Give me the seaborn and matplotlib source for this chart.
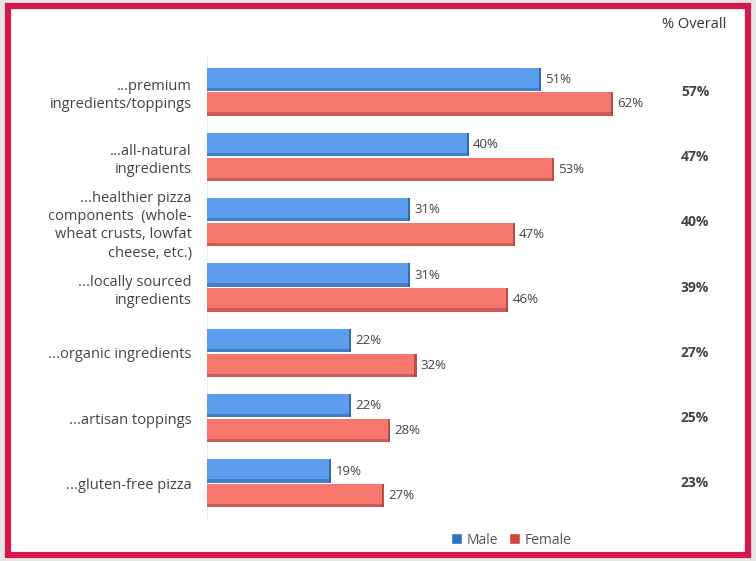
import matplotlib
matplotlib.use("Agg")
import matplotlib.pyplot as plt
import matplotlib.transforms as mtrans
from matplotlib.patches import Rectangle, Patch
import seaborn as sns
import pandas as pd

categories = [
    "...premium\ningredients/toppings",
    "...all-natural\ningredients",
    "...healthier pizza\ncomponents  (whole-\nwheat crusts, lowfat\ncheese, etc.)",
    "...locally sourced\ningredients",
    "...organic ingredients",
    "...artisan toppings",
    "...gluten-free pizza",
]
male = [51, 40, 31, 31, 22, 22, 19]
female = [62, 53, 47, 46, 32, 28, 27]
overall = [57, 47, 40, 39, 27, 25, 23]
series = ["Male", "Female"]

df = pd.DataFrame({
    "category": categories * 2,
    "value": male + female,
    "gender": ["Male"] * len(categories) + ["Female"] * len(categories),
})

sns.set_theme(style="white")
plt.rcParams["font.family"] = ["Open Sans", "DejaVu Sans"]

W, H = 756, 561
fig = plt.figure(figsize=(W / 100, H / 100), dpi=100)
fig.patch.set_facecolor("#e6e6e8")

# white panel with crimson frame
fig.patches.append(Rectangle((8 / W, 6 / H), (W - 16) / W, (H - 12) / H,
                             transform=fig.transFigure, facecolor="white",
                             edgecolor="#d5184c", linewidth=4.5, zorder=-5))

ax = fig.add_axes([207 / W, 1 - 520 / H, (650 - 207) / W, 465 / H])
ax.set_facecolor("none")

palette = {"Male": "#5d9ded", "Female": "#f6776d"}
sns.barplot(data=df, y="category", x="value", hue="gender", hue_order=series,
            palette=palette, orient="h", width=0.76, gap=0.06, ax=ax,
            legend=False, saturation=1, edgecolor="none")

# subtle dark shading on bar ends
shade = {"Male": "#2f5f9c", "Female": "#a8453e"}
for cont, name in zip(ax.containers, series):
    for rect in cont:
        rect.set_edgecolor("none")
        x0, y0 = rect.get_x(), rect.get_y()
        w, h = rect.get_width(), rect.get_height()
        ax.add_patch(Rectangle((x0 + w - 0.35, y0), 0.35, h, facecolor=shade[name],
                               edgecolor="none", alpha=0.8, zorder=3))
        ax.add_patch(Rectangle((x0, y0 + h - 0.05), w, 0.05, facecolor=shade[name],
                               edgecolor="none", alpha=0.5, zorder=3))
    ax.bar_label(cont, labels=[f"{int(v)}%" for v in cont.datavalues], padding=3,
                 fontsize=9.5, color="#444444")

ax.set_xlim(0, (650 - 207) / 6.55)
ax.set_ylim(6.56, -0.56)
ax.set_xlabel("")
ax.set_ylabel("")
ax.set_xticks([])
ax.tick_params(axis="y", length=0, pad=11, labelsize=10.5, labelcolor="#444444")
for lab in ax.get_yticklabels():
    lab.set_ha("right")
    lab.set_multialignment("right")
    lab.set_linespacing(1.3)
for s in ax.spines.values():
    s.set_visible(False)
ax.axvline(0, color="#eeeeee", lw=0.8, zorder=0)

# overall column
trans = mtrans.blended_transform_factory(fig.transFigure, ax.transData)
for i, v in enumerate(overall):
    ax.text(695 / W, i, f"{v}%", transform=trans, ha="center", va="center",
            fontsize=10, fontweight="bold", color="#444444", clip_on=False)

fig.text(694 / W, 1 - 24 / H, "% Overall", ha="center", va="center",
         fontsize=10.5, color="#333333")

# legend
handles = [Patch(facecolor="#2f72c4", label="Male"),
           Patch(facecolor="#d7433b", label="Female")]
fig.legend(handles=handles, loc="center", bbox_to_anchor=(511 / W, 1 - 540 / H),
           ncol=2, frameon=False, fontsize=10, handlelength=0.8, handleheight=0.8,
           handletextpad=0.3, columnspacing=0.8, labelcolor="#555555")

fig.savefig("out.png", dpi=100)
